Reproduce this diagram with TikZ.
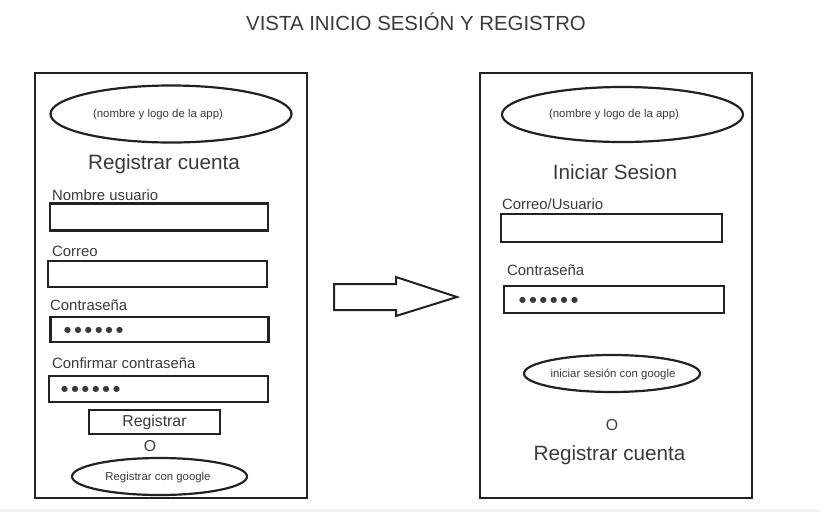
\documentclass[tikz,border=0pt]{standalone}
\usepackage{fontspec}
\setmainfont{Liberation Sans}
\newfontfamily\dotfont{DejaVu Sans}
\usetikzlibrary{shapes.geometric}
\definecolor{inkline}{HTML}{222222}
\definecolor{inktext}{HTML}{3A3A3A}
\definecolor{stripgray}{HTML}{F2F2F2}
\newcommand{\pwdmark}{●\kern3.4pt●\kern3.4pt●\kern3.4pt●\kern3.4pt●\kern3.4pt●}
\tikzset{
  panel/.style={draw=inkline, line width=2pt, inner sep=0pt},
  field/.style={draw=inkline, line width=2.4pt, minimum width=218pt,
                minimum height=27pt, inner sep=0pt},
  oval/.style={ellipse, draw=inkline, line width=2.2pt, inner sep=0pt},
  lbl/.style={text=inktext, font=\fontsize{14.9}{16}\selectfont, anchor=west, inner sep=0pt},
  heading/.style={text=inktext, font=\fontsize{20.7}{22}\selectfont, inner sep=0pt},
  smalltxt/.style={text=inktext, font=\fontsize{11.4}{13}\selectfont, inner sep=0pt},
  pwdots/.style={text=inktext, font=\dotfont\fontsize{8}{10}\selectfont, anchor=west, inner sep=0pt},
}

\begin{document}
\begin{tikzpicture}[x=1pt, y=-1pt]
    \useasboundingbox (0,0) rectangle (820,512);
    \fill[stripgray] (0,509) rectangle (820,512);
    \node[text=inktext, font=\fontsize{20.4}{22}\selectfont] (title) at (416,22) {VISTA INICIO SESIÓN Y REGISTRO};

    % registro
    \node[panel, minimum width=272pt, minimum height=425pt] (regpanel) at (170.5,285.5) {};
    \node[oval, minimum width=241pt, minimum height=57pt] (reglogo) at (171,114) {};
    \node[smalltxt] (reglogotxt) at (158,115) {(nombre y logo de la app)};
    \node[heading] (reghead) at (164,164) {Registrar cuenta};
    \node[lbl] (lusuario) at (52,195) {Nombre usuario};
    \node[field] (fusuario) at (159,217) {};
    \node[lbl] (lcorreo) at (52,251) {Correo};
    \node[field, minimum width=219pt, minimum height=26pt] (fcorreo) at (157.5,274) {};
    \node[lbl] (lpass) at (50,305) {Contraseña};
    \node[field, minimum height=25pt] (fpass) at (159.5,329.5) {};
    \node[pwdots] (dpass) at (64,330) {\pwdmark};
    \node[lbl] (lconf) at (52,363) {Confirmar contraseña};
    \node[field, minimum width=219pt, minimum height=26pt] (fconf) at (158.5,389) {};
    \node[pwdots] (dconf) at (61,389) {\pwdmark};
    \node[draw=inkline, line width=2.2pt, minimum width=131pt, minimum height=24pt, inner sep=0pt,
          text=inktext, font=\fontsize{15.8}{17}\selectfont] (bregistrar) at (154.5,422) {Registrar};
    \node[text=inktext, font=\fontsize{15.8}{17}\selectfont, inner sep=0pt] (rego) at (150,446) {O};
    \node[oval, minimum width=175pt, minimum height=37pt] (reggoogle) at (159.5,476.5) {};
    \node[smalltxt] (reggoogletxt) at (158,478) {Registrar con google};

    % flecha
    \draw[inkline, line width=2pt, line join=miter]
      (334,284) -- (396,284) -- (396,277) -- (457,297) -- (396,316) -- (396,310) -- (334,310) -- cycle;

    % inicio sesion
    \node[panel, minimum width=272pt, minimum height=425pt] (logpanel) at (616,285.5) {};
    \node[oval, minimum width=241pt, minimum height=55pt] (loglogo) at (622.5,114.5) {};
    \node[smalltxt] (loglogotxt) at (614,115) {(nombre y logo de la app)};
    \node[heading] (loghead) at (615,172) {Iniciar Sesion};
    \node[lbl] (lcorreousr) at (502,204) {Correo/Usuario};
    \node[field, minimum width=221pt, minimum height=28pt] (fcorreousr) at (611.5,228) {};
    \node[lbl] (llogpass) at (507,270) {Contraseña};
    \node[field, minimum width=220pt] (flogpass) at (614,299.5) {};
    \node[pwdots] (dlogpass) at (519,300) {\pwdmark};
    \node[oval, minimum width=176pt, minimum height=37pt] (loggoogle) at (612,373.5) {};
    \node[smalltxt] (loggoogletxt) at (613,374) {iniciar sesión con google};
    \node[text=inktext, font=\fontsize{15.8}{17}\selectfont, inner sep=0pt] (logo) at (612,425) {O};
    \node[heading] (logreg) at (609.5,455) {Registrar cuenta};
\end{tikzpicture}
\end{document}
